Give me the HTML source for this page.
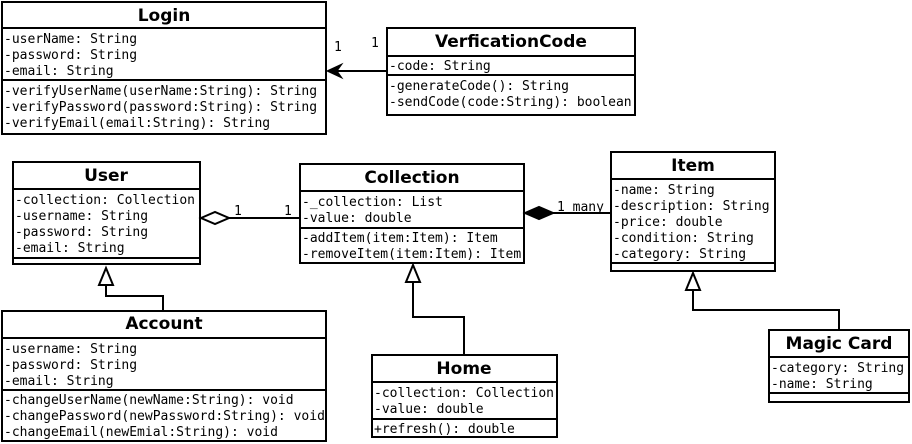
<!DOCTYPE html>
<html><head><meta charset="utf-8"><style>
html,body{margin:0;padding:0;background:#fff;}
svg{display:block}
.t{font-family:"DejaVu Sans Mono","Liberation Mono",monospace;font-size:13px;fill:#000}
.h{font-family:"DejaVu Sans","Liberation Sans",sans-serif;font-size:17px;font-weight:bold;fill:#000;text-anchor:middle}
rect,line,polyline,path{stroke:#000;stroke-width:2;fill:none}
</style></head><body>
<svg width="912" height="444" viewBox="0 0 912 444">
<!-- Login -->
<rect x="2" y="2" width="324" height="132"/>
<line x1="2" y1="28" x2="326" y2="28"/><line x1="2" y1="80" x2="326" y2="80"/>
<text class="h" x="164" y="21">Login</text>
<text class="t" x="4" y="43">-userName: String</text>
<text class="t" x="4" y="59">-password: String</text>
<text class="t" x="4" y="75">-email: String</text>
<text class="t" x="4" y="95">-verifyUserName(userName:String): String</text>
<text class="t" x="4" y="111">-verifyPassword(password:String): String</text>
<text class="t" x="4" y="127">-verifyEmail(email:String): String</text>
<!-- VerficationCode -->
<rect x="387" y="28" width="248" height="87"/>
<line x1="387" y1="56" x2="635" y2="56"/><line x1="387" y1="75" x2="635" y2="75"/>
<text class="h" x="511" y="47">VerficationCode</text>
<text class="t" x="389" y="70">-code: String</text>
<text class="t" x="389" y="90">-generateCode(): String</text>
<text class="t" x="389" y="106">-sendCode(code:String): boolean</text>
<line x1="387" y1="71" x2="330" y2="71"/>
<path d="M327,71 L342,64 L337,71 L342,78 Z" style="fill:#000;stroke-width:1"/>
<text class="t" x="334" y="51">1</text><text class="t" x="371" y="47">1</text>
<!-- User -->
<rect x="13" y="162" width="187" height="102"/>
<line x1="13" y1="189" x2="200" y2="189"/><line x1="13" y1="258" x2="200" y2="258"/>
<text class="h" x="106" y="181">User</text>
<text class="t" x="15" y="204">-collection: Collection</text>
<text class="t" x="15" y="220">-username: String</text>
<text class="t" x="15" y="236">-password: String</text>
<text class="t" x="15" y="252">-email: String</text>
<!-- Collection -->
<rect x="300" y="164" width="224" height="99"/>
<line x1="300" y1="191" x2="524" y2="191"/><line x1="300" y1="228" x2="524" y2="228"/>
<text class="h" x="412" y="183">Collection</text>
<text class="t" x="302" y="206">-_collection: List</text>
<text class="t" x="302" y="222">-value: double</text>
<text class="t" x="302" y="242">-addItem(item:Item): Item</text>
<text class="t" x="302" y="258">-removeItem(item:Item): Item</text>
<!-- aggregation -->
<path d="M201,218 L215,212 L229,218 L215,224 Z" style="fill:#fff"/>
<line x1="229" y1="218" x2="300" y2="218"/>
<text class="t" x="234" y="215">1</text><text class="t" x="284" y="215">1</text>
<!-- Item -->
<rect x="611" y="152" width="164" height="119"/>
<line x1="611" y1="179" x2="775" y2="179"/><line x1="611" y1="263" x2="775" y2="263"/>
<text class="h" x="693" y="171">Item</text>
<text class="t" x="613" y="194">-name: String</text>
<text class="t" x="613" y="210">-description: String</text>
<text class="t" x="613" y="226">-price: double</text>
<text class="t" x="613" y="242">-condition: String</text>
<text class="t" x="613" y="258">-category: String</text>
<!-- composition -->
<path d="M525,213 L539,207 L553,213 L539,219 Z" style="fill:#000"/>
<line x1="553" y1="213" x2="611" y2="213"/>
<text class="t" x="557" y="211">1 many</text>
<!-- Account -->
<rect x="2" y="311" width="324" height="130"/>
<line x1="2" y1="338" x2="326" y2="338"/><line x1="2" y1="390" x2="326" y2="390"/>
<text class="h" x="164" y="329">Account</text>
<text class="t" x="4" y="353">-username: String</text>
<text class="t" x="4" y="369">-password: String</text>
<text class="t" x="4" y="385">-email: String</text>
<text class="t" x="4" y="404">-changeUserName(newName:String): void</text>
<text class="t" x="4" y="420">-changePassword(newPassword:String): void</text>
<text class="t" x="4" y="436">-changeEmail(newEmial:String): void</text>
<polyline points="163,311 163,296 106,296 106,285"/>
<path d="M106,268 L113,285 L99,285 Z" style="fill:#fff"/>
<!-- Home -->
<rect x="372" y="355" width="185" height="82"/>
<line x1="372" y1="382" x2="557" y2="382"/><line x1="372" y1="419" x2="557" y2="419"/>
<text class="h" x="464" y="374">Home</text>
<text class="t" x="374" y="397">-collection: Collection</text>
<text class="t" x="374" y="413">-value: double</text>
<text class="t" x="374" y="433">+refresh(): double</text>
<polyline points="464,355 464,317 413,317 413,282"/>
<path d="M413,265 L420,282 L406,282 Z" style="fill:#fff"/>
<!-- Magic Card -->
<rect x="769" y="330" width="140" height="72"/>
<line x1="769" y1="357" x2="909" y2="357"/><line x1="769" y1="393" x2="909" y2="393"/>
<text class="h" x="839" y="349">Magic Card</text>
<text class="t" x="771" y="372">-category: String</text>
<text class="t" x="771" y="388">-name: String</text>
<polyline points="839,330 839,310 693,310 693,290"/>
<path d="M693,273 L700,290 L686,290 Z" style="fill:#fff"/>
</svg>
</body></html>
